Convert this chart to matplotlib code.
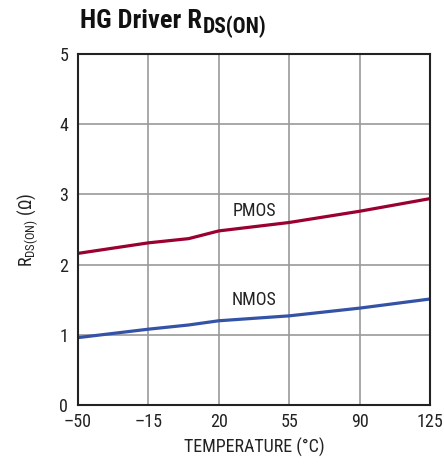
import matplotlib
matplotlib.use('Agg')
import matplotlib.pyplot as plt

plt.rcParams['font.family'] = ['Roboto Condensed', 'DejaVu Sans']
plt.rcParams['mathtext.fontset'] = 'custom'
plt.rcParams['mathtext.rm'] = 'Roboto Condensed'

# ── Data ──────────────────────────────────────────────────────
temp      = [-50, -15, 5, 20, 55, 90, 125]
pmos_rds  = [2.16, 2.31, 2.37, 2.48, 2.60, 2.76, 2.94]
nmos_rds  = [0.96, 1.08, 1.14, 1.20, 1.27, 1.38, 1.51]
x_ticks   = [-50, -15, 20, 55, 90, 125]
x_labels  = ['–50', '–15', '20', '55', '90', '125']
y_ticks   = [0, 1, 2, 3, 4, 5]

TXT = '#222222'

fig = plt.figure(figsize=(4.44, 4.66), dpi=100)
ax = fig.add_axes([0.1757, 0.1309, 0.7928, 0.7532])

ax.plot(temp, pmos_rds, color='#9a0030', linewidth=2.3, solid_capstyle='butt')
ax.plot(temp, nmos_rds, color='#3553a6', linewidth=2.3, solid_capstyle='butt')

ax.text(37.5, 2.77, 'PMOS', fontsize=13, ha='center', va='center', color=TXT)
ax.text(37.5, 1.50, 'NMOS', fontsize=13, ha='center', va='center', color=TXT)

ax.set_xlim(-50, 125)
ax.set_ylim(0, 5)
ax.set_xticks(x_ticks)
ax.set_xticklabels(x_labels)
ax.set_yticks(y_ticks)
ax.tick_params(length=0, labelsize=13, colors=TXT)
ax.tick_params(axis='x', pad=6)
ax.tick_params(axis='y', pad=7)
ax.grid(True, color='#999999', linewidth=1.2)
ax.set_axisbelow(True)
for s in ax.spines.values():
    s.set_color(TXT)
    s.set_linewidth(1.5)

ax.set_xlabel('TEMPERATURE (°C)', fontsize=13, color=TXT, labelpad=5)
ax.set_ylabel(r'R$_{\mathrm{DS(ON)}}$ (Ω)', fontsize=13, color=TXT, labelpad=14)

# title with a larger-than-mathtext subscript
t = fig.text(80 / 444, 1 - 28 / 466, 'HG Driver R', fontsize=19, fontweight='bold',
             ha='left', va='baseline', color='#111111')
fig.canvas.draw()
bb = t.get_window_extent()
fig.text(bb.x1 / 444 + 0.002, 1 - 33.5 / 466, 'DS(ON)', fontsize=15.5, fontweight='bold',
         ha='left', va='baseline', color='#111111')

fig.savefig('out.png', dpi=100)
